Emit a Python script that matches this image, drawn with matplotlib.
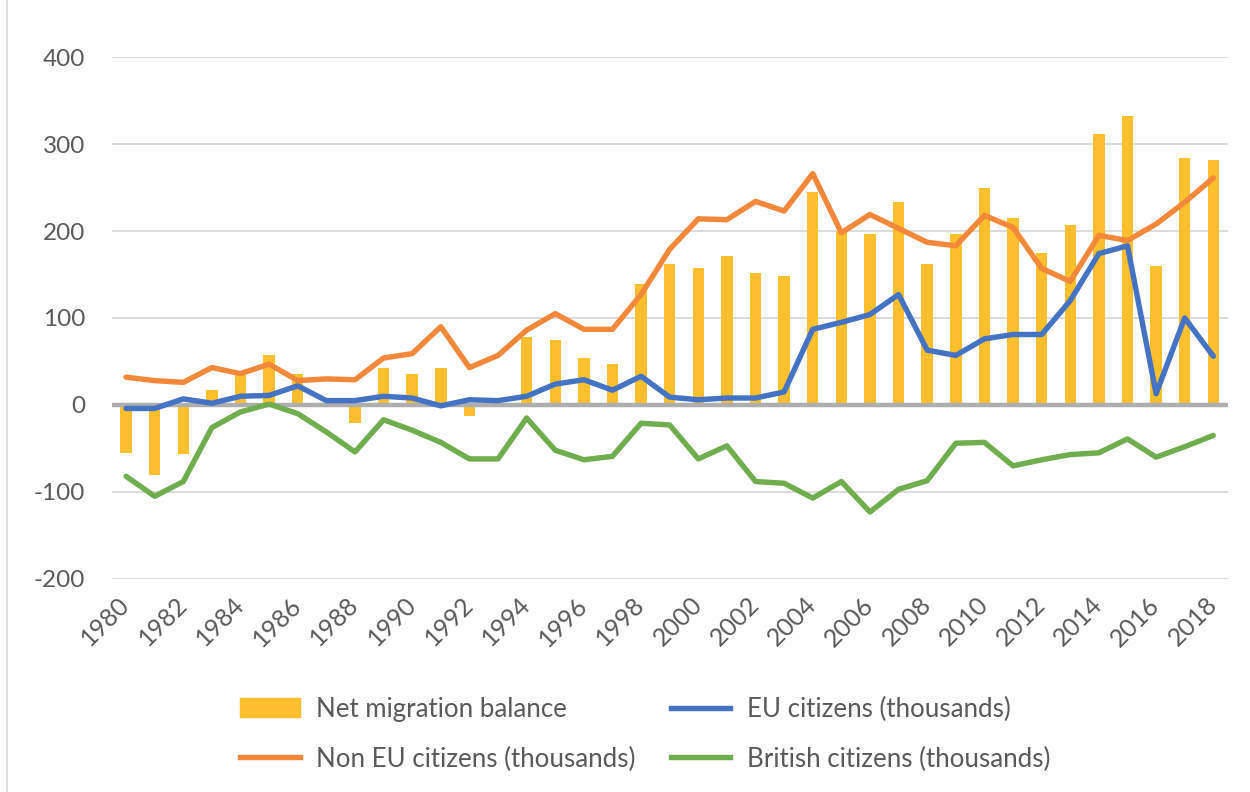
import numpy as np
import matplotlib
matplotlib.use('Agg')
import matplotlib.pyplot as plt
from matplotlib.lines import Line2D

# data (thousands)
years = list(range(1980, 2019))
net_migration = [-55, -80, -56, 17, 34, 57, 36, 1, -21, 43,
                 36, 43, -13, 1, 78, 75, 54, 47, 139, 162,
                 157, 171, 152, 148, 245, 200, 197, 233, 162, 197,
                 249, 215, 175, 207, 312, 332, 160, 284, 282]
eu_citizens = [-4, -4, 7, 2, 10, 11, 22, 5, 5, 10,
               8, -1, 6, 5, 10, 24, 29, 17, 33, 9,
               6, 8, 8, 15, 87, 95, 104, 127, 63, 57,
               76, 81, 81, 120, 174, 183, 13, 100, 56]
non_eu_citizens = [32, 28, 26, 43, 36, 47, 28, 30, 29, 54,
                   59, 90, 43, 57, 86, 105, 87, 87, 127, 179,
                   214, 213, 234, 223, 266, 198, 219, 203, 187, 183,
                   218, 204, 157, 142, 195, 189, 208, 233, 261]
british_citizens = [-82, -105, -88, -26, -8, 1, -10, -31, -54, -17,
                    -29, -43, -62, -62, -15, -52, -63, -59, -21, -23,
                    -62, -47, -88, -90, -107, -88, -123, -97, -87, -44,
                    -43, -70, -63, -57, -55, -39, -60, -48, -35]
y_ticks = [-200, -100, 0, 100, 200, 300, 400]

plt.rcParams['font.family'] = ['Lato', 'DejaVu Sans']

fig = plt.figure(figsize=(12.5, 7.92), dpi=100)
ax = fig.add_axes([0.0894, 0.269, 0.8927, 0.659])

bar_col = '#FDBF2D'
blue = '#4472C4'
orange = '#F4883A'
green = '#6FAD4E'
lw = 3.9

ax.bar(years, net_migration, width=0.4, color=bar_col, zorder=2)
ax.axhline(0, color='#AEAEAE', lw=3.2, zorder=3)
ax.plot(years, eu_citizens, color=blue, lw=lw, solid_capstyle='round', zorder=4)
ax.plot(years, non_eu_citizens, color=orange, lw=lw, solid_capstyle='round', zorder=4)
ax.plot(years, british_citizens, color=green, lw=lw, solid_capstyle='round', zorder=4)

ax.set_xlim(1979.5, 2018.5)
ax.set_ylim(-200, 400)
ax.set_yticks(y_ticks)
ax.set_yticklabels([str(v) for v in y_ticks])
ax.yaxis.grid(True, color='#D9D9D9', lw=1.3, zorder=0)
ax.set_axisbelow(True)
for s in ax.spines.values():
    s.set_visible(False)
ax.tick_params(axis='y', length=0, pad=19, labelsize=17.5, labelcolor='#595959')

ax.set_xticks(years[::2])
ax.set_xticklabels([str(y) for y in years[::2]], rotation=45, ha='right',
                   rotation_mode='anchor', va='center')
ax.tick_params(axis='x', length=0, pad=16, labelsize=18, labelcolor='#595959')

# chart border (left edge visible)
fig.add_artist(Line2D([0.0056, 0.0056], [0, 1], color='#D9D9D9', lw=1.2))

handles = [
    plt.Rectangle((0, 0), 1, 1, color=bar_col),
    Line2D([0], [0], color=orange, lw=lw),
    Line2D([0], [0], color=blue, lw=lw),
    Line2D([0], [0], color=green, lw=lw),
]
labels = ['Net migration balance', 'Non EU citizens (thousands)',
          'EU citizens (thousands)', 'British citizens (thousands)']
leg = fig.legend(handles, labels, ncol=2, loc='center', bbox_to_anchor=(0.516, 0.073),
                 frameon=False, fontsize=18.6, handlelength=2.3, handleheight=0.75,
                 handletextpad=0.62, columnspacing=1.4, labelspacing=0.95)
for t in leg.get_texts():
    t.set_color('#595959')

fig.savefig('out.png', dpi=100, facecolor='white')
